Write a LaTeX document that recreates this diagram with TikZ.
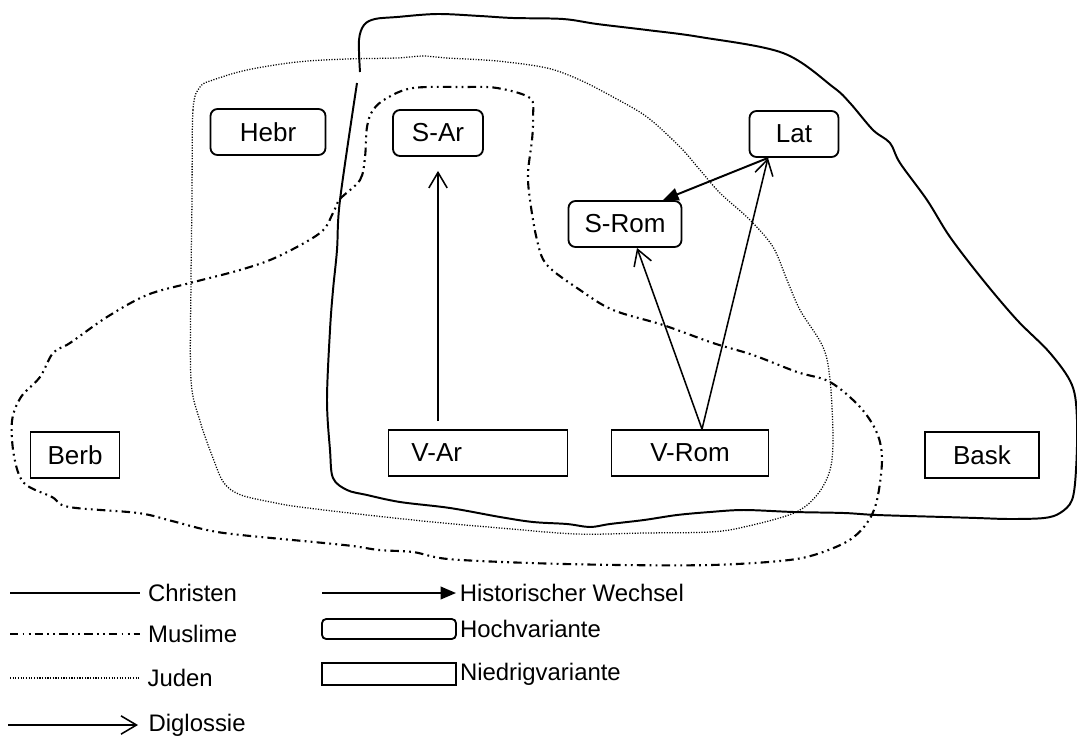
\documentclass[tikz,border=0pt]{standalone}
\usepackage{fontspec}
\setsansfont{Liberation Sans}
\usetikzlibrary{arrows.meta,positioning}

\begin{document}
\begin{tikzpicture}[
  x=0.025cm, y=-0.025cm,
  font=\sffamily\fontsize{18.5}{22}\selectfont,
  hoch/.style={draw=black, line width=1.3pt, rounded corners=5pt, minimum height=1.15cm, inner sep=2pt},
  niedrig/.style={draw=black, line width=1.3pt, minimum height=1.15cm, inner sep=2pt},
  christ/.style={line width=1.4pt, line join=round},
  muslim/.style={line width=1.5pt, dash pattern=on 6pt off 3pt on 1.3pt off 3pt on 1.3pt off 3pt},
  jud/.style={line width=0.9pt, dash pattern=on 0.8pt off 1.1pt},
  dig/.style={-{Straight Barb[length=11pt,width=13pt]}, line width=1.1pt},
  wechsel/.style={-{Triangle[length=11pt,width=9pt]}, line width=1.4pt},
  lgd/.style={font=\sffamily\fontsize{17}{20}\selectfont, inner sep=1pt}
]
  \useasboundingbox (0,0) rectangle (1077,737);

  % regions
  \draw[christ] plot[smooth, tension=0.55] coordinates {
    (360,72) (359,40) (364,25) (375,19) (397,17) (437,14) (480,16) (513,18)
    (563,19) (597,24) (647,30) (700,37) (783,53) (833,87) (850,103) (873,130)
    (890,143) (900,163) (927,200) (950,237) (983,280) (1017,320) (1050,353)
    (1072,385) (1077,420) (1076,470) (1072,500) (1060,513) (1044,518) (1010,519)
    (977,518) (944,517) (877,515) (844,513) (794,512) (744,510) (710,512)
    (677,515) (644,520) (610,524) (590,527) (567,524) (533,522) (500,517)
    (450,508) (400,502) (367,495) (347,490) (333,478) (330,450) (327,400)
    (330,330) (333,290) (337,250) (340,200) (357,83)};
  \draw[jud] plot[smooth cycle, tension=0.55] coordinates {
    (192,200) (193,110) (200,87) (213,80) (247,70) (297,62) (347,59) (397,58)
    (423,56) (447,58) (497,61) (547,68) (580,80) (613,97) (647,117) (680,147)
    (700,170) (720,193) (750,220) (773,247) (787,280) (800,310) (823,347)
    (830,380) (833,437) (830,470) (817,495) (794,513) (744,527) (710,532)
    (644,533) (577,534) (500,528) (433,522) (367,515) (300,507) (276,503)
    (241,495) (224,483) (213,458) (200,421) (191,380) (191,280)};
  \draw[muslim] plot[smooth cycle, tension=0.55] coordinates {
    (340,199) (360,180) (365,157) (367,127) (373,110) (387,98) (413,88)
    (463,87) (497,88) (530,98) (533,117) (532,140) (528,173) (530,200)
    (537,240) (547,265) (580,290) (613,310) (663,325) (713,343) (753,355)
    (797,372) (830,382) (860,407) (877,433) (882,460) (877,500) (867,523)
    (848,541) (814,555) (780,561) (711,565) (620,565) (530,563) (448,559)
    (413,552) (379,550) (344,545) (241,535) (207,530) (172,521) (138,513)
    (69,507) (52,497) (24,483) (14,456) (12,421) (21,397) (40,377) (53,353)
    (70,343) (107,317) (147,295) (190,283) (240,270) (277,257) (320,233)
    (333,213)};

  % varieties
  \node[hoch, minimum width=2.875cm] (hebr) at (268,132) {Hebr};
  \node[hoch, minimum width=2.25cm] (sar) at (438,133) {S-Ar};
  \node[hoch, minimum width=2.225cm] (lat) at (794,134) {Lat};
  \node[hoch, minimum width=2.825cm] (srom) at (625,224) {S-Rom};
  \node[niedrig, minimum width=2.225cm] (berb) at (75,455) {Berb};
  \node[niedrig, inner xsep=0.575cm, text width=3.325cm, align=left] (var) at (478,453) {V-Ar};
  \node[niedrig, minimum width=3.925cm] (vrom) at (690,453) {V-Rom};
  \node[niedrig, minimum width=2.85cm] (bask) at (982,455) {Bask};

  % diglossia and change
  \coordinate (apex) at ([xshift=0.3cm]vrom.north);
  \draw[dig, shorten <=0.2cm, shorten >=0.35cm] (sar.south |- var.north) -- (sar.south);
  \draw[dig] (apex) -- ([xshift=0.3cm]srom.south);
  \draw[dig] (apex) -- ([xshift=-0.65cm]lat.south);
  \draw[wechsel] ([xshift=-0.65cm]lat.south) -- ([xshift=0.95cm]srom.north);

  % legend
  \draw[christ] (10,593) -- (140,593) node[lgd, right=4pt] {Christen};
  \draw[muslim] (10,634) -- (140,634) node[lgd, right=4pt] {Muslime};
  \draw[jud] (10,678) -- (140,678) node[lgd, right=4pt] {Juden};
  \draw[dig] (8,725) -- (138,725) node[lgd, right=6pt] {Diglossie};
  \draw[wechsel] (322,593) -- (456,593) node[lgd, right=1pt] {Historischer Wechsel};
  \node[hoch, rounded corners=3pt, minimum width=3.35cm, minimum height=0.5cm] (hochkey) at (389,629) {};
  \node[lgd, right=1pt of hochkey] {Hochvariante};
  \node[niedrig, minimum width=3.35cm, minimum height=0.55cm] (niedrigkey) at (389,674) {};
  \node[lgd, right=1pt of niedrigkey] {Niedrigvariante};
\end{tikzpicture}
\end{document}
